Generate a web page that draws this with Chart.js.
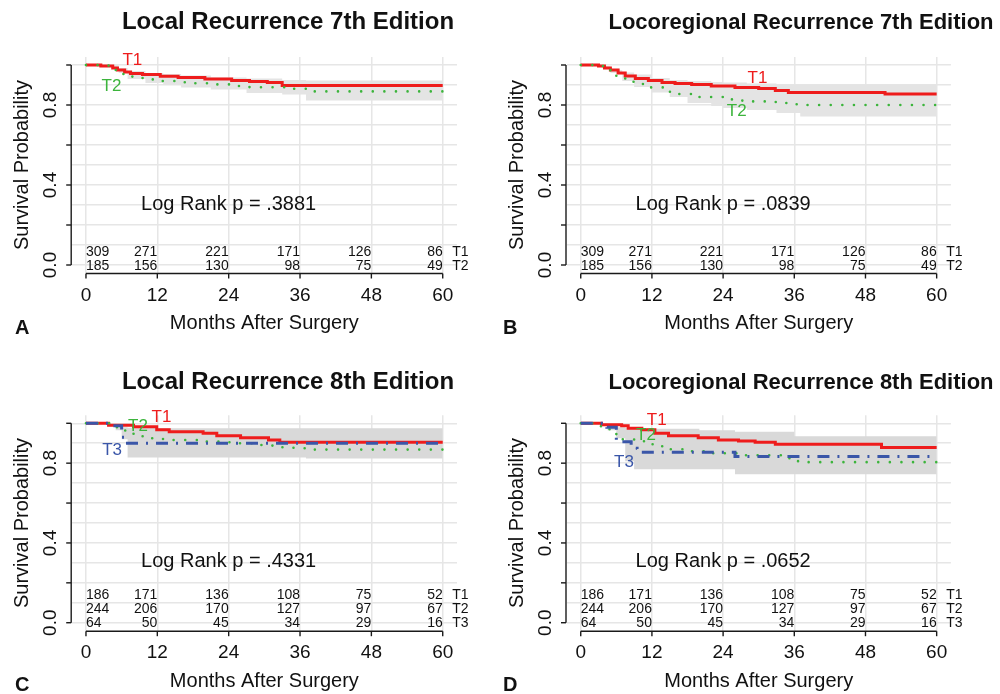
<!DOCTYPE html>
<html><head><meta charset="utf-8">
<script src="https://cdn.jsdelivr.net/npm/chart.js@4.4.0/dist/chart.umd.min.js"></script>
<style>
html,body{margin:0;padding:0;background:#fff;width:1000px;height:694px;overflow:hidden}
canvas{position:absolute}
</style></head><body>
<canvas id="cA" width="500" height="347" style="left:0px;top:0px"></canvas>
<canvas id="cB" width="500" height="347" style="left:500px;top:0px"></canvas>
<canvas id="cC" width="500" height="347" style="left:0px;top:347px"></canvas>
<canvas id="cD" width="500" height="347" style="left:500px;top:347px"></canvas>
<script>
// ---------- data ----------
const monthTicks = [0, 12, 24, 36, 48, 60];
const survTickMarks = [0, 0.2, 0.4, 0.6, 0.8, 1.0];
const survTickLabels = [0, 0.4, 0.8];
const survGrid = [0, 0.1, 0.2, 0.3, 0.4, 0.5, 0.6, 0.7, 0.8, 0.9, 1.0];

const panelTitles = ["Local Recurrence 7th Edition", "Locoregional Recurrence 7th Edition",
                     "Local Recurrence 8th Edition", "Locoregional Recurrence 8th Edition"];
const panelLetters = ["A", "B", "C", "D"];
const logRankP = [".3881", ".0839", ".4331", ".0652"];
const groups7 = ["T1", "T2"];
const groups8 = ["T1", "T2", "T3"];

// numbers at risk at 0,12,24,36,48,60 months
const risk7_T1 = [309, 271, 221, 171, 126, 86];
const risk7_T2 = [185, 156, 130, 98, 75, 49];
const risk8_T1 = [186, 171, 136, 108, 75, 52];
const risk8_T2 = [244, 206, 170, 127, 97, 67];
const risk8_T3 = [64, 50, 45, 34, 29, 16];

// Panel A
const a_T1_month = [0, 2.5, 4.5, 5.3, 6.5, 7.5, 9.5, 12.5, 15.5, 20, 24.5, 27.5, 30.5, 33, 60];
const a_T1_surv  = [1, .995, .985, .975, .965, .958, .952, .944, .937, .93, .922, .918, .912, .898, .898];
const a_T2_month = [0, 3, 4.2, 5, 5.6, 6.3, 7.8, 9.6, 12, 15, 18, 21.5, 24.5, 27.5, 33.7, 37.5, 60];
const a_T2_surv  = [1, .997, .99, .975, .96, .945, .935, .928, .92, .914, .909, .903, .895, .889, .881, .868, .868];
const a_band_month = [0, 4, 5.5, 7, 10, 13, 16, 21, 27, 33, 37, 60];
const a_band_upper = [1, 1, .985, .97, .96, .955, .948, .938, .932, .925, .922, .922];
const a_band_lower = [1, .99, .96, .93, .91, .9, .888, .877, .86, .852, .822, .822];

// Panel B
const b_T1_month = [0, 3, 4, 5, 6.3, 7.5, 9.2, 11.4, 13.7, 15.9, 18.7, 22, 26, 30, 32.8, 35, 51.3, 60];
const b_T1_surv  = [1, .995, .985, .975, .96, .945, .932, .922, .913, .907, .903, .895, .888, .882, .872, .862, .855, .855];
const b_T2_month = [0, 2.5, 4, 5, 6, 7.5, 8.9, 10.6, 14, 16, 19.3, 25, 27, 29, 32.8, 34.5, 36.4, 60];
const b_T2_surv  = [1, .995, .985, .965, .94, .92, .905, .888, .866, .855, .84, .828, .822, .818, .815, .81, .80, .80];
const b_band_month = [0, 3, 5, 7, 9, 12, 15, 18, 22, 24, 28, 33, 37, 60];
const b_band_upper = [1, .995, .975, .962, .952, .935, .925, .92, .915, .912, .907, .903, .903, .903];
const b_band_lower = [1, .99, .96, .92, .89, .862, .84, .81, .795, .785, .775, .76, .742, .742];

// Panel C
const c_T1_month = [0, 3.8, 8, 11.9, 14, 19.7, 22, 26, 30.7, 32.6, 60];
const c_T1_surv  = [1, .99, .983, .967, .958, .95, .938, .928, .916, .905, .905];
const c_T2_month = [0, 4.6, 5.2, 6.6, 8, 9.6, 11.6, 13.6, 19.5, 23.1, 24.8, 29, 31, 32.6, 34.9, 38.3, 60];
const c_T2_surv  = [1, .988, .967, .958, .935, .925, .921, .916, .908, .905, .9, .891, .888, .88, .875, .868, .868];
const c_T3_month = [0, 4.5, 6, 6.6, 60];
const c_T3_surv  = [1, .987, .93, .9, .9];
const c_band_month = [0, 4, 5, 6, 7, 12, 37, 60];
const c_band_upper = [1, .99, .985, .98, .978, .975, .975, .975];
const c_band_lower = [1, .985, .965, .92, .828, .828, .824, .824];

// Panel D
const d_T1_month = [0, 3.5, 6.9, 8, 10.3, 12.5, 14.8, 19.8, 23.2, 26.6, 29.4, 32.8, 50.7, 60];
const d_T1_surv  = [1, .992, .987, .975, .967, .95, .938, .928, .916, .911, .905, .895, .878, .878];
const d_T2_month = [0, 3, 4.5, 6, 7, 9, 11, 13, 15, 18, 22, 27, 34, 36, 38, 60];
const d_T2_surv  = [1, .985, .97, .94, .92, .91, .895, .885, .87, .86, .85, .84, .825, .81, .805, .805];
const d_T3_month = [0, 4.4, 6, 8.5, 9.5, 26, 60];
const d_T3_surv  = [1, .98, .908, .875, .855, .833, .833];
const d_band_month = [0, 3.5, 4.5, 6, 7.5, 9, 12, 20, 26, 36, 60];
const d_band_upper = [1, 1, .985, .98, .978, .975, .972, .965, .958, .935, .935];
const d_band_lower = [1, .99, .965, .925, .81, .77, .77, .77, .745, .745, .745];

// ---------- styles ----------
const FONT = "'Liberation Sans', Arial, Helvetica, sans-serif";
const RED = '#ee1c1c', GREEN = '#3cb43c', BLUE = '#3a56a8';
const GRID = '#e6e6e6';

function pts(t, s) { return t.map((x, i) => ({x: x, y: s[i]})); }

function bandSets(t, up, lo, color) {
  return [
    {data: pts(t, up), stepped: 'before', borderWidth: 0, pointRadius: 0, fill: '+1', backgroundColor: color, order: 10},
    {data: pts(t, lo), stepped: 'before', borderWidth: 0, pointRadius: 0, fill: false, order: 10}
  ];
}
function curve(t, s, kind) {
  const base = {data: pts(t, s), stepped: 'before', pointRadius: 0, fill: false};
  if (kind === 'T1') return Object.assign(base, {borderColor: RED, borderWidth: 3, order: 3});
  if (kind === 'T2') return Object.assign(base, {borderColor: GREEN, borderWidth: 2.6, borderDash: [0, 11.6], borderCapStyle: 'round', order: 2});
  return Object.assign(base, {borderColor: BLUE, borderWidth: 3, borderDash: [12, 8, 2, 8], borderCapStyle: 'butt', order: 1});
}

const panels = {
  cA: {i: 0, pad: {left: 71.7, top: 57, right: 43, bottom: 74},
       datasets: [...bandSets(a_band_month, a_band_upper, a_band_lower, '#e4e4e4'),
                  curve(a_T1_month, a_T1_surv, 'T1'), curve(a_T2_month, a_T2_surv, 'T2')],
       risk: [risk7_T1, risk7_T2], riskNames: groups7, riskY: [0.065, -0.005],
       labels: [{t: 'T1', c: RED, x: 7.8, y: 1.0225}, {t: 'T2', c: GREEN, x: 4.3, y: 0.895}],
       titleX: 288, titleY: 29, titleSize: 24},
  cB: {i: 1, pad: {left: 66.5, top: 57, right: 49.1, bottom: 74},
       datasets: [...bandSets(b_band_month, b_band_upper, b_band_lower, '#e4e4e4'),
                  curve(b_T1_month, b_T1_surv, 'T1'), curve(b_T2_month, b_T2_surv, 'T2')],
       risk: [risk7_T1, risk7_T2], riskNames: groups7, riskY: [0.065, -0.005],
       labels: [{t: 'T1', c: RED, x: 29.8, y: 0.935}, {t: 'T2', c: GREEN, x: 26.3, y: 0.7675}],
       titleX: 301, titleY: 29, titleSize: 22},
  cC: {i: 2, pad: {left: 71.7, top: 68.3, right: 43, bottom: 63.3},
       datasets: [...bandSets(c_band_month, c_band_upper, c_band_lower, '#d9d9d9'),
                  curve(c_T1_month, c_T1_surv, 'T1'), curve(c_T2_month, c_T2_surv, 'T2'), curve(c_T3_month, c_T3_surv, 'T3')],
       risk: [risk8_T1, risk8_T2, risk8_T3], riskNames: groups8, riskY: [0.138, 0.068, -0.003],
       labels: [{t: 'T1', c: RED, x: 12.7, y: 1.029}, {t: 'T2', c: GREEN, x: 8.75, y: 0.986}, {t: 'T3', c: BLUE, x: 4.4, y: 0.866}],
       titleX: 288, titleY: 42, titleSize: 24},
  cD: {i: 3, pad: {left: 66.5, top: 68.3, right: 49.1, bottom: 63.3},
       datasets: [...bandSets(d_band_month, d_band_upper, d_band_lower, '#d9d9d9'),
                  curve(d_T1_month, d_T1_surv, 'T1'), curve(d_T2_month, d_T2_surv, 'T2'), curve(d_T3_month, d_T3_surv, 'T3')],
       risk: [risk8_T1, risk8_T2, risk8_T3], riskNames: groups8, riskY: [0.138, 0.068, -0.003],
       labels: [{t: 'T1', c: RED, x: 12.8, y: 1.017}, {t: 'T2', c: GREEN, x: 11.0, y: 0.941}, {t: 'T3', c: BLUE, x: 7.3, y: 0.806}],
       titleX: 301, titleY: 42, titleSize: 22}
};

const kmDecor = {
  id: 'kmDecor',
  afterDraw(chart) {
    const p = panels[chart.canvas.id];
    const ctx = chart.ctx, xs = chart.scales.x, ys = chart.scales.y, ca = chart.chartArea;
    const X = v => xs.getPixelForValue(v), Y = v => ys.getPixelForValue(v);
    ctx.save();
    // axes
    ctx.strokeStyle = '#1a1a1a'; ctx.lineWidth = 1.4; ctx.setLineDash([]);
    const ax = ca.left - 0.5, ay = ca.bottom + 0.5;
    ctx.beginPath(); ctx.moveTo(ax, Y(0)); ctx.lineTo(ax, Y(1)); ctx.stroke();
    survTickMarks.forEach(v => { ctx.beginPath(); ctx.moveTo(ax, Y(v)); ctx.lineTo(ax - 5, Y(v)); ctx.stroke(); });
    ctx.beginPath(); ctx.moveTo(X(0), ay); ctx.lineTo(X(60), ay); ctx.stroke();
    monthTicks.forEach(v => { ctx.beginPath(); ctx.moveTo(X(v), ay); ctx.lineTo(X(v), ay + 5); ctx.stroke(); });
    ctx.fillStyle = '#111';
    // x tick labels
    ctx.font = '19px ' + FONT; ctx.textAlign = 'center'; ctx.textBaseline = 'middle';
    monthTicks.forEach(v => ctx.fillText(String(v), X(v), ay + 22));
    // x title
    ctx.font = '20px ' + FONT;
    ctx.fillText('Months After Surgery', X(30), ay + 50);
    // y tick labels (rotated)
    ctx.font = '19px ' + FONT;
    survTickLabels.forEach(v => {
      ctx.save(); ctx.translate(ax - 20, Y(v)); ctx.rotate(-Math.PI / 2);
      ctx.fillText(v.toFixed(1), 0, 0); ctx.restore();
    });
    ctx.font = '20px ' + FONT;
    ctx.save(); ctx.translate(ax - 49, Y(0.5)); ctx.rotate(-Math.PI / 2);
    ctx.fillText('Survival Probability', 0, 0); ctx.restore();
    // log rank
    ctx.fillText('Log Rank p = ' + logRankP[p.i], X(24), Y(0.305));
    // curve labels
    ctx.font = '17px ' + FONT;
    p.labels.forEach(l => { ctx.fillStyle = l.c; ctx.fillText(l.t, X(l.x), Y(l.y)); });
    // numbers at risk
    ctx.fillStyle = '#111'; ctx.font = '14px ' + FONT;
    p.risk.forEach((row, r) => {
      const y = Y(p.riskY[r]);
      row.forEach((n, k) => {
        ctx.textAlign = k === 0 ? 'left' : 'right';
        ctx.fillText(String(n), X(monthTicks[k]), y);
      });
      ctx.textAlign = 'left';
      ctx.fillText(p.riskNames[r], X(61.6), y);
    });
    // title
    ctx.font = 'bold ' + p.titleSize + 'px ' + FONT; ctx.textAlign = 'center'; ctx.textBaseline = 'alphabetic';
    ctx.fillText(panelTitles[p.i], p.titleX, p.titleY);
    // letter
    ctx.font = 'bold 20px ' + FONT; ctx.textAlign = 'left';
    ctx.fillText(panelLetters[p.i], p.i % 2 === 0 ? 15 : 3, ca.bottom + 60.5);
    ctx.restore();
  }
};

Object.keys(panels).forEach(id => {
  const p = panels[id];
  new Chart(document.getElementById(id), {
    type: 'line',
    data: {datasets: p.datasets},
    options: {
      responsive: false, animation: false, devicePixelRatio: 1,
      layout: {padding: p.pad},
      plugins: {legend: {display: false}, tooltip: {enabled: false}, title: {display: false}},
      scales: {
        x: {type: 'linear', min: -2.4, max: 62.4,
            afterBuildTicks: s => { s.ticks = monthTicks.map(v => ({value: v})); },
            ticks: {display: false}, border: {display: false},
            grid: {color: GRID, lineWidth: 1.5, drawTicks: false}},
        y: {type: 'linear', min: -0.04, max: 1.04,
            afterBuildTicks: s => { s.ticks = survGrid.map(v => ({value: v})); },
            ticks: {display: false}, border: {display: false},
            grid: {color: GRID, lineWidth: 1.5, drawTicks: false}}
      }
    },
    plugins: [kmDecor]
  });
});
</script>
</body></html>
